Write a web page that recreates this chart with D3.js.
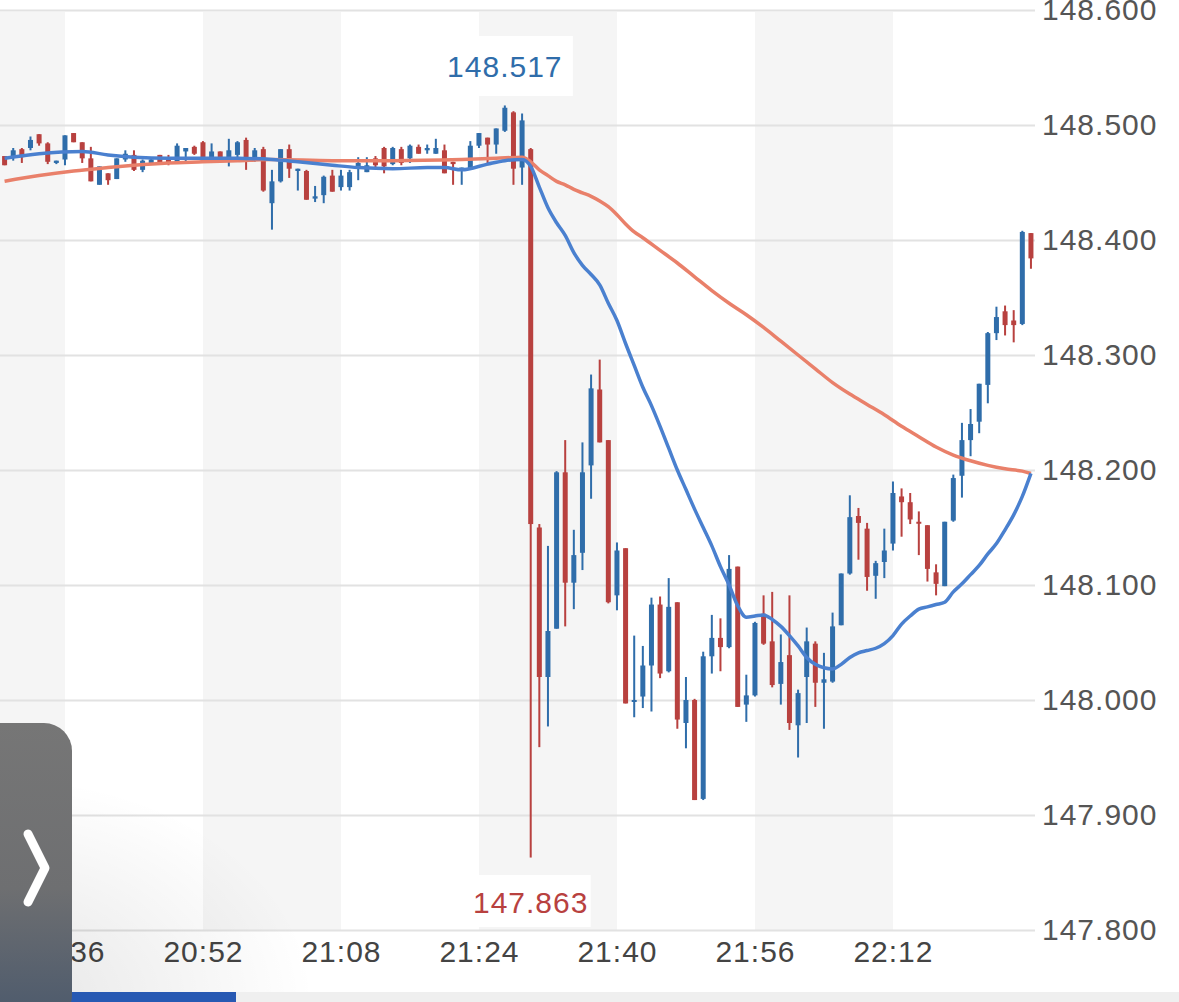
<!doctype html>
<html>
<head>
<meta charset="utf-8">
<script src="https://cdn.jsdelivr.net/npm/d3@7"></script>
<style>
  body { margin: 0; background: #fff; }
  svg { display: block; }
</style>
</head>
<body>
<svg id="chart" width="1179" height="1002"></svg>
<script>
// first candle time, one candle per minute
const startTime = "20:29"
// candle values
const opens = [148.473,148.472,148.479,148.480,148.492,148.484,148.467,148.470,148.493,148.485,
  148.471,148.448,148.458,148.453,148.470,148.474,148.461,148.466,148.474,148.472,
  148.468,148.477,148.481,148.485,148.472,148.477,148.468,148.474,148.487,148.472,
  148.479,148.432,148.451,148.479,148.460,148.460,148.436,148.439,148.456,148.446,
  148.446,148.463,148.459,148.471,148.480,148.466,148.479,148.471,148.481,148.478,
  148.475,148.478,148.468,148.461,148.462,148.482,148.489,148.483,148.495,148.511,
  148.463,148.479,148.150,148.020,148.062,148.198,148.102,148.128,148.204,148.270,
  148.226,148.091,148.132,147.999,148.003,148.030,148.083,148.025,148.085,147.980,
  148.000,147.914,148.038,148.054,148.046,148.116,147.996,148.004,148.075,148.051,
  148.014,148.039,147.978,148.020,148.049,148.015,148.016,148.065,148.110,148.160,
  148.149,148.108,148.120,148.136,148.177,148.172,148.155,148.152,148.111,148.099,
  148.156,148.195,148.226,148.242,148.274,148.319,148.338,148.330,148.327,148.406]
const highs = [148.473,148.480,148.480,148.490,148.492,148.485,148.469,148.491,148.493,148.485,
  148.481,148.464,148.458,148.471,148.478,148.478,148.470,148.472,148.474,148.474,
  148.484,148.480,148.482,148.486,148.484,148.477,148.488,148.486,148.489,148.480,
  148.481,148.461,148.479,148.483,148.462,148.461,148.447,148.456,148.461,148.461,
  148.461,148.472,148.472,148.473,148.481,148.481,148.481,148.483,148.483,148.483,
  148.488,148.483,148.468,148.463,148.486,148.493,148.489,148.497,148.517,148.512,
  148.510,148.480,148.153,148.134,148.199,148.226,148.148,148.224,148.283,148.296,
  148.226,148.137,148.132,148.056,148.047,148.089,148.090,148.106,148.085,148.020,
  148.001,148.042,148.074,148.071,148.126,148.116,148.022,148.068,148.091,148.094,
  148.057,148.091,148.009,148.063,148.051,148.041,148.076,148.110,148.178,148.167,
  148.154,148.121,148.149,148.190,148.184,148.180,148.164,148.152,148.118,148.155,
  148.196,148.241,148.253,148.275,148.320,148.342,148.343,148.339,148.408,148.406]
const lows = [148.465,148.469,148.467,148.478,148.482,148.466,148.466,148.465,148.485,148.467,
  148.451,148.448,148.448,148.453,148.468,148.460,148.459,148.466,148.466,148.465,
  148.467,148.467,148.474,148.468,148.470,148.468,148.464,148.472,148.461,148.468,
  148.442,148.409,148.450,148.454,148.443,148.435,148.433,148.432,148.442,148.443,
  148.443,148.452,148.459,148.463,148.458,148.465,148.465,148.467,148.475,148.475,
  148.475,148.458,148.448,148.448,148.461,148.480,148.465,148.475,148.494,148.448,
  148.448,147.863,147.959,147.977,148.062,148.064,148.079,148.113,148.175,148.224,
  148.084,148.078,147.997,147.985,147.993,147.990,148.019,148.024,147.975,147.958,
  147.913,147.913,148.023,148.025,148.045,147.994,147.981,148.003,148.048,148.011,
  147.996,147.974,147.950,147.980,147.994,147.975,148.015,148.065,148.109,148.122,
  148.095,148.088,148.106,148.130,148.142,148.153,148.126,148.103,148.091,148.099,
  148.155,148.176,148.212,148.232,148.258,148.313,148.317,148.311,148.326,148.375]
const closes = [148.465,148.478,148.472,148.487,148.484,148.468,148.469,148.491,148.485,148.471,
  148.451,148.464,148.452,148.471,148.475,148.461,148.469,148.470,148.467,148.467,
  148.482,148.480,148.475,148.469,148.477,148.470,148.478,148.485,148.472,148.478,
  148.443,148.451,148.479,148.462,148.462,148.435,148.438,148.455,148.442,148.456,
  148.459,148.467,148.465,148.465,148.464,148.480,148.467,148.482,148.475,148.480,
  148.480,148.458,148.466,148.463,148.482,148.493,148.483,148.497,148.515,148.462,
  148.504,148.153,148.020,148.060,148.198,148.102,148.126,148.198,148.271,148.224,
  148.085,148.130,147.997,148.000,148.030,148.083,148.023,148.081,147.983,148.000,
  147.913,148.038,148.054,148.046,148.114,147.994,148.004,148.067,148.049,148.013,
  148.033,147.980,148.006,148.051,148.015,148.018,148.064,148.110,148.159,148.154,
  148.107,148.119,148.130,148.180,148.172,148.157,148.154,148.114,148.101,148.155,
  148.193,148.226,148.240,148.275,148.319,148.333,148.326,148.326,148.407,148.384]

// moving average lines, sampled at candle positions
const fastIdx = [0,4,9,12,15,19,23,27,31,34,38,41,45,49,51,53,56,58,60,61,62,63,64,65,66,67,68,69,70,
  71,72,73,74,75,76,77,78,79,80,81,82,83,84,85,86,87,88,89,90,91,92,93,94,95,96,97,98,99,100,
  101,102,103,104,105,106,107,108,109,110,111,112,113,114,115,116,117,118,119]
const fastMA = [148.471,148.475,148.477,148.474,148.472,148.471,148.471,148.471,148.470,148.468,148.465,
  148.463,148.462,148.463,148.463,148.461,148.466,148.469,148.470,148.464,148.446,148.428,148.415,
  148.404,148.389,148.378,148.370,148.361,148.345,148.330,148.310,148.291,148.272,148.256,148.238,
  148.219,148.200,148.183,148.166,148.150,148.134,148.116,148.100,148.082,148.072,148.073,148.074,
  148.070,148.064,148.056,148.047,148.037,148.031,148.028,148.027,148.031,148.037,148.041,148.043,
  148.045,148.049,148.056,148.066,148.073,148.079,148.081,148.083,148.085,148.094,148.101,148.109,
  148.117,148.127,148.136,148.148,148.161,148.177,148.197]
const slowIdx = [0,4,8,12,15,19,23,27,31,38,45,53,57,60,61,62,63,64,65,66,67,68,69,70,71,72,73,74,
  76,78,80,82,84,86,88,90,92,94,96,98,100,102,104,106,108,110,112,114,116,118,119]
const slowMA = [148.451,148.456,148.460,148.463,148.465,148.467,148.468,148.469,148.470,148.469,
  148.469,148.470,148.471,148.472,148.468,148.461,148.456,148.451,148.448,148.444,148.441,148.438,
  148.434,148.429,148.422,148.414,148.407,148.402,148.391,148.380,148.368,148.356,148.345,148.335,
  148.324,148.312,148.300,148.288,148.276,148.266,148.257,148.248,148.238,148.229,148.220,148.213,
  148.208,148.204,148.201,148.199,148.197]

const yTicks = [147.8,147.9,148.0,148.1,148.2,148.3,148.4,148.5,148.6]
const xTicks = ["20:36","20:52","21:08","21:24","21:40","21:56","22:12"]
const highLabel = "148.517"
const lowLabel = "147.863"

const W = 1179, H = 1002
const plotRight = 1035, plotTop = 10, plotBottom = 930
const upColor = "#2f6daa", downColor = "#b8413f"

const parseT = d3.timeParse("%H:%M")
const t0 = parseT(startTime)
const timeAt = (i) => new Date(t0.getTime() + i * 60000)
const fmt = d3.timeFormat("%H:%M")

const x = d3.scaleTime()
    .domain([timeAt(-0.533), timeAt(119.47)])
    .range([0, plotRight])
const y = d3.scaleLinear()
    .domain([147.8, 148.6])
    .range([plotBottom, plotTop])

const svg = d3.select("#chart")

// background bands, every 16 minutes
const bandEdges = [timeAt(-0.533)].concat(xTicks.map(parseT), [timeAt(119.47)])
svg.append("g").selectAll("rect")
    .data(d3.pairs(bandEdges))
    .enter()
    .append("rect")
    .attr("x", d => x(d[0]))
    .attr("y", 12)
    .attr("width", d => x(d[1]) - x(d[0]))
    .attr("height", plotBottom - 12)
    .attr("fill", (d, i) => i % 2 == 0 ? "#f5f5f5" : "#ffffff")

// grid
const grid = svg.append("g")
    .attr("transform", "translate(" + plotRight + ",0)")
    .call(d3.axisLeft(y).tickValues(yTicks).tickSize(plotRight).tickFormat(""))
grid.select(".domain").remove()
grid.selectAll("line").attr("stroke", "#e2e2e2").attr("stroke-width", 2)

// candles
const idx = d3.range(opens.length)
const bw = 5
const candles = svg.append("g").selectAll("g")
    .data(idx)
    .enter()
    .append("g")
    .attr("fill", i => closes[i] >= opens[i] ? upColor : downColor)
candles.append("rect")
    .attr("x", i => x(timeAt(i)) - 1)
    .attr("y", i => y(highs[i]))
    .attr("width", 2)
    .attr("height", i => Math.max(1, y(lows[i]) - y(highs[i])))
candles.append("rect")
    .attr("x", i => x(timeAt(i)) - bw / 2)
    .attr("y", i => y(Math.max(opens[i], closes[i])))
    .attr("width", bw)
    .attr("height", i => Math.max(2, Math.abs(y(opens[i]) - y(closes[i]))))

// moving averages
const line = d3.line()
    .x(d => x(timeAt(d[0])))
    .y(d => y(d[1]))
    .curve(d3.curveMonotoneX)
svg.append("path")
    .datum(d3.zip(slowIdx, slowMA))
    .attr("d", line)
    .attr("fill", "none")
    .attr("stroke", "#e9806a")
    .attr("stroke-width", 3.5)
svg.append("path")
    .datum(d3.zip(fastIdx, fastMA))
    .attr("d", line)
    .attr("fill", "none")
    .attr("stroke", "#4a80cf")
    .attr("stroke-width", 3.5)

// right axis labels
const yAxis = svg.append("g")
    .attr("transform", "translate(" + (plotRight + 7) + ",0)")
    .call(d3.axisRight(y).tickValues(yTicks).tickSize(0).tickPadding(0).tickFormat(d3.format(".3f")))
yAxis.select(".domain").remove()
yAxis.selectAll("text")
    .attr("font-family", "Liberation Sans, Arial, sans-serif")
    .attr("font-size", 30)
    .attr("letter-spacing", 1)
    .attr("fill", "#555")

// time labels
const xAxis = svg.append("g")
    .attr("transform", "translate(0," + plotBottom + ")")
    .call(d3.axisBottom(x).tickValues(xTicks.map(parseT)).tickSize(0).tickPadding(11).tickFormat(fmt))
xAxis.select(".domain").remove()
xAxis.selectAll("text")
    .attr("font-family", "Liberation Sans, Arial, sans-serif")
    .attr("font-size", 30)
    .attr("letter-spacing", 1)
    .attr("fill", "#444")

// high / low markers
const hiIdx = highs.indexOf(d3.max(highs))
const loIdx = lows.indexOf(d3.min(lows))
svg.append("rect").attr("x", x(timeAt(hiIdx)) - 27).attr("y", 36).attr("width", 95).attr("height", 60).attr("fill", "#fff")
svg.append("text")
    .attr("x", x(timeAt(hiIdx)))
    .attr("y", 77)
    .attr("text-anchor", "middle")
    .attr("font-family", "Liberation Sans, Arial, sans-serif")
    .attr("font-size", 30)
    .attr("letter-spacing", 1)
    .attr("fill", upColor)
    .text(highLabel)
svg.append("rect").attr("x", x(timeAt(loIdx)) - 60).attr("y", 875).attr("width", 120).attr("height", 52).attr("fill", "#fff")
svg.append("text")
    .attr("x", x(timeAt(loIdx)))
    .attr("y", 913)
    .attr("text-anchor", "middle")
    .attr("font-family", "Liberation Sans, Arial, sans-serif")
    .attr("font-size", 30)
    .attr("letter-spacing", 1)
    .attr("fill", downColor)
    .text(lowLabel)

// soft shade near the bottom left, bottom strip and the side tab
const defs = svg.append("defs")
const shade = defs.append("radialGradient").attr("id", "shade").attr("cx", 0).attr("cy", 1).attr("r", 0.45)
shade.append("stop").attr("offset", 0).attr("stop-color", "#000").attr("stop-opacity", 0.1)
shade.append("stop").attr("offset", 1).attr("stop-color", "#000").attr("stop-opacity", 0)
svg.append("rect").attr("x", 0).attr("y", 500).attr("width", 700).attr("height", 502).attr("fill", "url(#shade)")

svg.append("rect").attr("x", 0).attr("y", 992).attr("width", W).attr("height", 10).attr("fill", "#efefef")
svg.append("rect").attr("x", 55).attr("y", 992).attr("width", 181).attr("height", 10).attr("fill", "#2759b3")

const tabGrad = defs.append("linearGradient").attr("id", "tab").attr("x1", 0).attr("y1", 0).attr("x2", 0).attr("y2", 1)
tabGrad.append("stop").attr("offset", 0).attr("stop-color", "#767676")
tabGrad.append("stop").attr("offset", 0.55).attr("stop-color", "#6e6f71")
tabGrad.append("stop").attr("offset", 1).attr("stop-color", "#4b596c")
svg.append("rect")
    .attr("x", -30).attr("y", 723).attr("width", 102).attr("height", 300)
    .attr("rx", 28)
    .attr("fill", "url(#tab)")
svg.append("path")
    .attr("d", "M28,834 L45,868 L28,902")
    .attr("fill", "none")
    .attr("stroke", "#fff")
    .attr("stroke-width", 9)
    .attr("stroke-linecap", "round")
    .attr("stroke-linejoin", "round")
</script>
</body>
</html>
